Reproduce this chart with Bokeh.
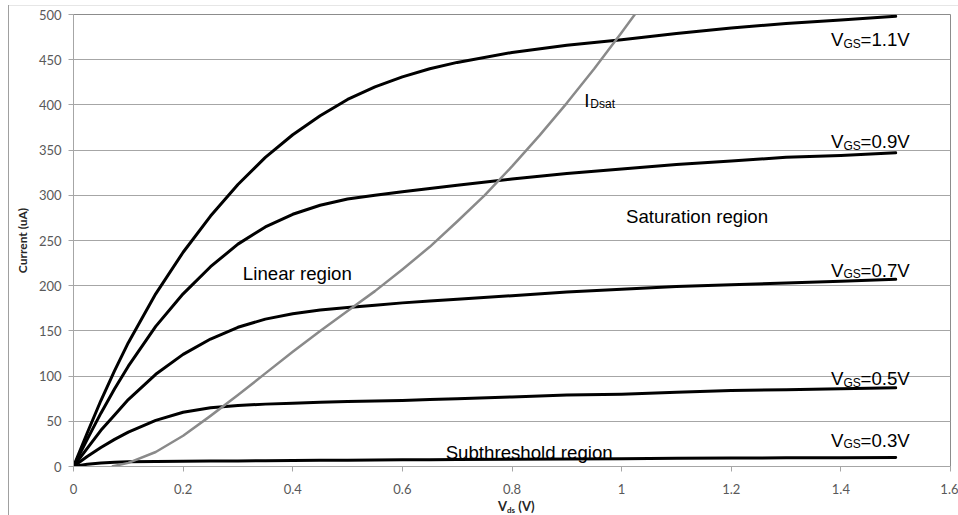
from bokeh.plotting import figure
from bokeh.models import Label, FixedTicker, Range1d, CustomJSTickFormatter, Div
from bokeh.layouts import column
from bokeh.embed import file_html
from bokeh.resources import INLINE

# Drain-source voltage sample points (V)
vds = [0, 0.025, 0.05, 0.075, 0.1, 0.15, 0.2, 0.25, 0.3, 0.35, 0.4, 0.45, 0.5,
       0.55, 0.6, 0.65, 0.7, 0.8, 0.9, 1.0, 1.1, 1.2, 1.3, 1.4, 1.5]

# Drain current (uA) for each gate voltage
id_vgs_11 = [0, 37, 73, 106, 137, 191, 237, 277, 312, 342, 367, 388, 406,
             420, 431, 440, 447, 458, 466, 472, 479, 485, 490, 494, 498]
id_vgs_09 = [0, 30, 59, 86, 111, 155, 191, 221, 246, 265, 279, 289, 296,
             300, 304, 307.5, 311, 318, 324, 329, 334, 338, 342, 344, 347]
id_vgs_07 = [0, 20, 40, 57, 74, 102, 124, 141, 154, 163, 169, 173, 176,
             178.5, 181, 183, 185, 189, 193, 196, 199, 201, 203, 205, 207]
id_vgs_05 = [0, 11, 21, 30, 38, 51, 60, 65, 67.5, 69, 70, 71, 72,
             72.5, 73, 74, 75, 77, 79, 80, 82, 84, 85, 86, 87]
id_vgs_03 = [0, 2.5, 4, 4.8, 5.2, 5.5, 5.8, 6, 6.2, 6.4, 6.6, 6.8, 7,
             7.2, 7.4, 7.6, 7.8, 8.1, 8.4, 8.7, 9, 9.3, 9.6, 9.8, 10]

# Saturation-current boundary
idsat_vds = [0.07, 0.1, 0.15, 0.2, 0.25, 0.3, 0.35, 0.4, 0.45, 0.5, 0.55, 0.6,
             0.65, 0.7, 0.75, 0.8, 0.85, 0.9, 0.95, 1.0, 1.03]
idsat_id = [0, 4, 16, 34, 56, 79, 103, 127, 150, 172, 194, 218,
            243, 271, 300, 332, 366, 402, 440, 480, 505]

vgs_names = ["1.1", "0.9", "0.7", "0.5", "0.3"]
curves = [id_vgs_11, id_vgs_09, id_vgs_07, id_vgs_05, id_vgs_03]
# label anchors (data coords of the text baseline start)
vgs_label_x = [1.382, 1.382, 1.382, 1.382, 1.382]
vgs_label_y = [472, 359, 217, 97, 29]

x_ticks = [0, 0.2, 0.4, 0.6, 0.8, 1.0, 1.2, 1.4, 1.6]
y_ticks = [0, 50, 100, 150, 200, 250, 300, 350, 400, 450, 500]

p = figure(width=958, height=500, output_backend="svg", toolbar_location=None,
           x_range=Range1d(0, 1.6), y_range=Range1d(0, 500),
           min_border_left=73, min_border_right=8, min_border_top=14,
           min_border_bottom=34)

p.border_fill_color = None
p.background_fill_color = "white"
p.outline_line_color = "#8c8c8c"
p.outline_line_width = 1

p.xgrid.grid_line_color = None
p.ygrid.grid_line_color = "#a6a6a6"
p.ygrid.grid_line_width = 1

p.xaxis.ticker = FixedTicker(ticks=x_ticks)
p.yaxis.ticker = FixedTicker(ticks=y_ticks)
p.xaxis.formatter = CustomJSTickFormatter(code="return String(Math.round(tick * 10) / 10);")
p.yaxis.formatter = CustomJSTickFormatter(code="return String(Math.round(tick));")

for ax in (p.xaxis, p.yaxis):
    ax.axis_line_color = "#a6a6a6"
    ax.major_tick_line_color = "#a6a6a6"
    ax.major_tick_in = 0
    ax.major_tick_out = 5
    ax.minor_tick_line_color = None
    ax.major_label_text_font = "Lato"
    ax.major_label_text_font_size = "13px"
    ax.major_label_text_color = "#595959"
p.xaxis.major_label_standoff = 12
p.yaxis.major_label_standoff = 7

p.yaxis.axis_label = "Current (uA)"
p.yaxis.axis_label_text_font = "Lato"
p.yaxis.axis_label_text_font_style = "bold"
p.yaxis.axis_label_text_font_size = "12px"
p.yaxis.axis_label_text_color = "#262626"
p.yaxis.axis_label_standoff = 6

# I-V curves
for ys in curves:
    p.line(vds, ys, line_color="black", line_width=3, line_join="round", line_cap="round")

p.line(idsat_vds, idsat_id, line_color="#8a8a8a", line_width=2.5, line_join="round")

MAIN = "18.67px"
SUB = "12px"
FONT = "Liberation Sans"


def add(text, x, y, size=MAIN, xo=0, yo=0):
    p.add_layout(Label(x=x, y=y, x_offset=xo, y_offset=yo, text=text,
                       text_font=FONT, text_font_size=size, text_color="black",
                       text_baseline="alphabetic", text_align="left"))


for name, lx, ly in zip(vgs_names, vgs_label_x, vgs_label_y):
    add("V", lx, ly)
    add("GS", lx, ly, size=SUB, xo=12.5, yo=-4)
    add("=" + name + "V", lx, ly, xo=29.5)

add("I", 0.932, 405)
add("Dsat", 0.932, 405, size=SUB, xo=6, yo=-4)

add("Linear region", 0.309, 213)
add("Saturation region", 1.008, 276)
add("Subthreshold region", 0.679, 16)

# x-axis title with subscript, set as a line of HTML under the plot
xtitle = Div(
    text='V<sub style="font-size:8px;vertical-align:-2px;">ds</sub>&nbsp;(V)',
    width=958, height=15,
    styles={"font-family": "Lato", "font-weight": "bold", "font-size": "13px",
            "color": "#262626", "line-height": "13px", "padding-left": "498px",
            "box-sizing": "border-box", "margin": "0"},
)

layout = column(p, xtitle, spacing=0, width=958, height=515)
layout.styles = {"box-shadow": "inset 8px 5px 0 0 #ffffff, inset 9px 0 0 0 #a0a0a0, inset 0 6px 0 0 #e6e6e6"}

open("out.html", "w").write(file_html(layout, INLINE))
